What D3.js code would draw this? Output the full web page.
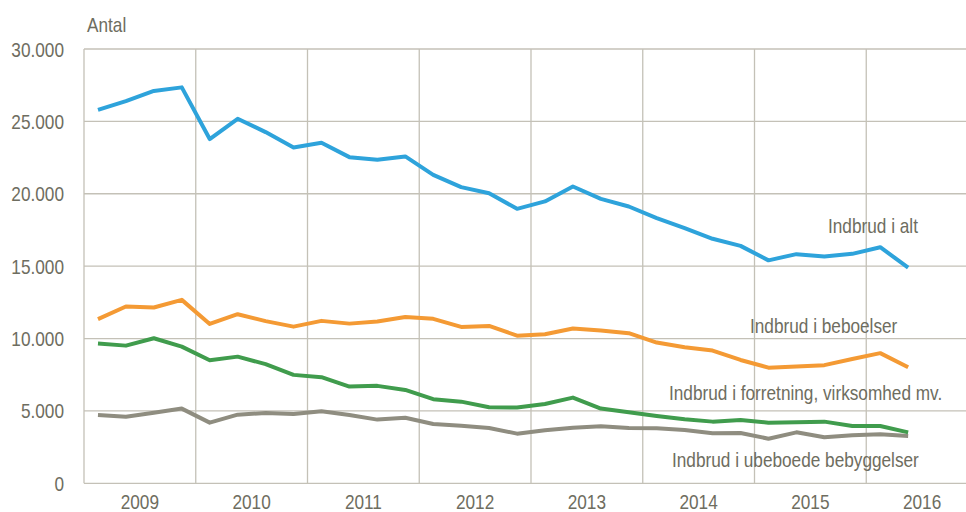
<!DOCTYPE html>
<html>
<head>
<meta charset="utf-8">
<script src="https://cdn.jsdelivr.net/npm/d3@7"></script>
<style>
  body { margin: 0; background: #fff; }
  text { font-family: "Liberation Sans", Arial, sans-serif; fill: #6e6d60; font-size: 21px; }
</style>
</head>
<body>
<div id="chart"></div>
<script>
const width = 966;
const height = 512;

const years = ["2009", "2010", "2011", "2012", "2013", "2014", "2015", "2016"];
// quarters 2009K1 .. 2016K2
const quarters = d3.range(30).map(i => ({ year: years[Math.floor(i / 4)], q: i % 4 }));

const alt = [25800, 26400, 27100, 27350, 23780, 25180, 24260, 23200, 23520, 22530,
  22350, 22580, 21310, 20460, 20040, 18960, 19470, 20500, 19650, 19120,
  18320, 17630, 16890, 16400, 15400, 15830, 15660, 15850, 16310, 14900];
const beboelser = [11340, 12210, 12140, 12670, 11010, 11680, 11200, 10820, 11220, 11030,
  11170, 11490, 11360, 10800, 10870, 10200, 10300, 10690, 10550, 10370,
  9720, 9400, 9170, 8520, 7990, 8060, 8160, 8590, 8990, 8020];
const forretning = [9650, 9510, 10020, 9440, 8500, 8750, 8230, 7490, 7330, 6680,
  6730, 6450, 5810, 5640, 5250, 5230, 5480, 5920, 5160, 4910,
  4650, 4420, 4260, 4380, 4190, 4220, 4260, 3960, 3960, 3520];
const ubeboede = [4720, 4600, 4880, 5160, 4190, 4740, 4860, 4790, 4980, 4720,
  4400, 4530, 4100, 3980, 3820, 3430, 3660, 3840, 3940, 3820,
  3800, 3680, 3460, 3480, 3080, 3520, 3180, 3320, 3390, 3270];

const yTicks = [0, 5000, 10000, 15000, 20000, 25000, 30000];

const series = [
  { name: "Indbrud i alt", values: alt, color: "#2ea3db", lx: 828, ly: 233 },
  { name: "Indbrud i beboelser", values: beboelser, color: "#f49a34", lx: 750, ly: 333 },
  { name: "Indbrud i forretning, virksomhed mv.", values: forretning, color: "#409c4d", lx: 669, ly: 400 },
  { name: "Indbrud i ubeboede bebyggelser", values: ubeboede, color: "#8f8d80", lx: 672, ly: 467 }
];

const plotLeft = 84, plotRight = 978, plotTop = 49, plotBottom = 483.3;
const narrow = 0.82; // mimic a condensed face

const svg = d3.select("#chart")
  .append("svg")
  .attr("width", width)
  .attr("height", height);

const x = d3.scaleBand()
  .domain(years)
  .range([plotLeft, plotRight]);

const y = d3.scaleLinear()
  .domain([0, 30000])
  .range([plotBottom, plotTop]);

const qx = d => x(d.year) + (d.q + 0.5) * x.bandwidth() / 4;

// text squeezed horizontally around its anchor point
function label(px, py, str, anchor) {
  return svg.append("text")
    .attr("transform", `translate(${px},${py}) scale(${narrow},1)`)
    .attr("text-anchor", anchor || "start")
    .text(str);
}

const gridColor = "#c4c1b7";

// horizontal grid
svg.selectAll(".hgrid")
  .data(yTicks)
  .enter()
  .append("line")
  .attr("x1", plotLeft)
  .attr("x2", plotRight)
  .attr("y1", d => y(d))
  .attr("y2", d => y(d))
  .attr("stroke", gridColor)
  .attr("stroke-width", 1.3);

// vertical grid at year boundaries
svg.selectAll(".vgrid")
  .data(years)
  .enter()
  .append("line")
  .attr("x1", d => x(d))
  .attr("x2", d => x(d))
  .attr("y1", plotTop)
  .attr("y2", plotBottom)
  .attr("stroke", gridColor)
  .attr("stroke-width", 1.3);

// y labels
yTicks.forEach(t => {
  label(64, y(t) + 7.5, d3.format(",")(t).replace(/,/g, "."), "end");
});

// x labels
years.forEach(yr => {
  label(x(yr) + x.bandwidth() / 2, 509, yr, "middle");
});

label(87, 32, "Antal");

const line = d3.line()
  .x((d, i) => qx(quarters[i]))
  .y(d => y(d));

series.forEach(s => {
  svg.append("path")
    .datum(s.values)
    .attr("fill", "none")
    .attr("stroke", s.color)
    .attr("stroke-width", 4)
    .attr("stroke-linejoin", "round")
    .attr("d", line);

  label(s.lx, s.ly, s.name);
});
</script>
</body>
</html>
